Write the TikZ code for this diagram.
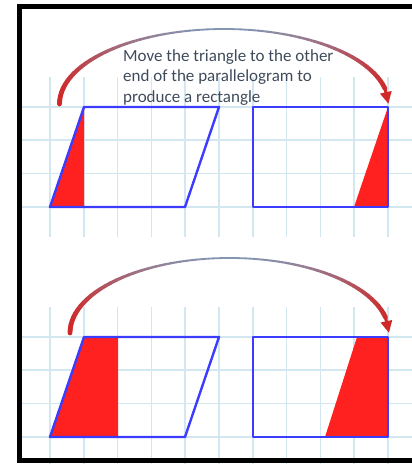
\documentclass[tikz,border=0pt]{standalone}
\usepackage{fontspec}
\setmainfont{Carlito}
\usetikzlibrary{arrows.meta}
\definecolor{GridBlue}{HTML}{D3E7F0}
\definecolor{EdgeBlue}{HTML}{3C3CFF}
\definecolor{PieceRed}{HTML}{FF2020}
\definecolor{ArcRed}{HTML}{D02828}
\definecolor{ArcGrey}{HTML}{8496B2}
\definecolor{NoteInk}{HTML}{3F4B5B}

\begin{document}
\begin{tikzpicture}[x=1pt, y=1pt,
    gridline/.style={GridBlue, line width=1.5pt},
    edge/.style={EdgeBlue, line width=2.4pt, line join=round},
    piece/.style={fill=PieceRed},
    note/.style={NoteInk, align=left, inner sep=0pt,
        font=\fontsize{17}{20.5}\selectfont}]
    \useasboundingbox (0,0) rectangle (412,464);
    \clip (0,0) rectangle (412,464);

    % Grid, upper and lower
    \foreach \i in {0,...,10} {
        \draw[gridline] ({50+33.8*\i},227) -- ({50+33.8*\i},387);
        \draw[gridline] ({50+33.8*\i},0) -- ({50+33.8*\i},157);
    }
    \foreach \j in {0,...,3} {
        \draw[gridline] (22,{257+33.4*\j}) -- (412,{257+33.4*\j});
        \draw[gridline] (22,{27+33.4*\j}) -- (412,{27+33.4*\j});
    }

    % Upper pair: triangle cut off and moved
    \fill[piece] (50,257) -- (84,357) -- (84,257) -- cycle;
    \fill[piece] (354,257) -- (388,357) -- (388,257) -- cycle;
    \draw[edge] (50,257) -- (84,357) -- (219,357) -- (185,257) -- cycle;
    \draw[edge] (253,257) rectangle (388,357);

    % Lower pair: wider piece
    \fill[piece] (50,27) -- (84,127) -- (118,127) -- (118,27) -- cycle;
    \fill[piece] (325,27) -- (357,127) -- (388,127) -- (388,27) -- cycle;
    \draw[edge] (50,27) -- (84,127) -- (219,127) -- (185,27) -- cycle;
    \draw[edge] (253,27) rectangle (388,127);

    % Caption
    \node[note, anchor=north west] (caption) at (123,415)
        {Move the triangle to the other\\end of the parallelogram to\\produce a rectangle};

    % Curved arrows, red at the ends and grey on top
    \coordinate (upperArc) at (224,360);
    \coordinate (lowerArc) at (229.5,131);
    \foreach \c/\rx in {upperArc/164.5, lowerArc/159.5} {
        \begin{scope}[shift={(\c)}]
            \foreach \a in {180,177,...,15} {
                \pgfmathsetmacro\t{100*cos(\a-1.5)^2}
                \pgfmathsetmacro\w{1.8+3*cos(\a-1.5)^2}
                \draw[line width=\w pt, line cap=round, ArcRed!\t!ArcGrey]
                    (\a:{\rx} and 75) -- ({\a-3}:{\rx} and 75);
            }
            \draw[ArcRed, line width=3pt, -{Triangle[length=12pt, width=11pt]}]
                (12:{\rx} and 75) -- (0:{\rx} and 75);
        \end{scope}
    }

    % Frame
    \draw[line width=5pt] (19,3) rectangle (440,457);
\end{tikzpicture}
\end{document}
